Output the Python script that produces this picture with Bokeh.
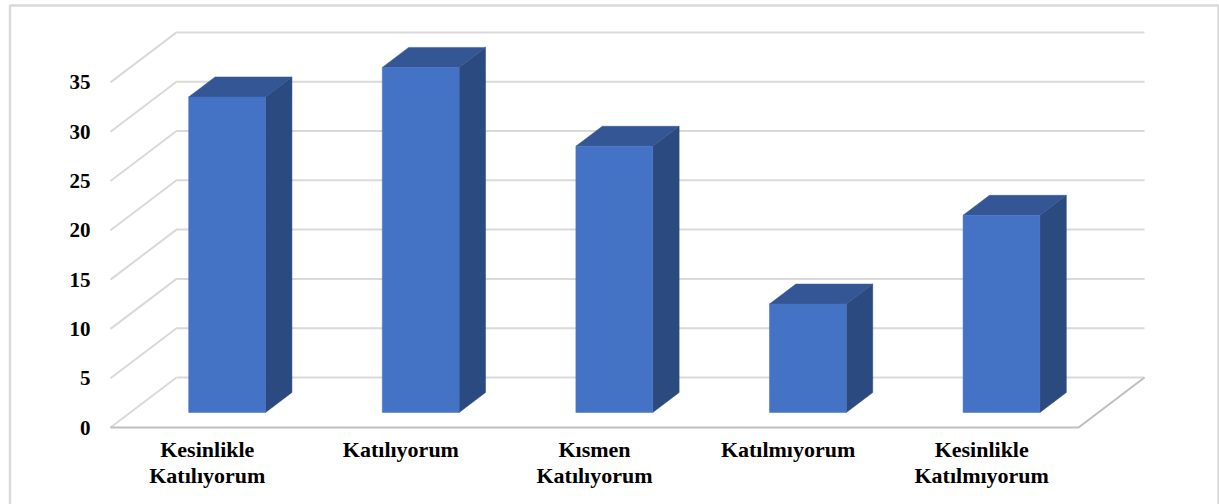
from bokeh.plotting import figure
from bokeh.models import Range1d, LinearAxis, FixedTicker, BoxAnnotation
from bokeh.embed import file_html
from bokeh.resources import INLINE

categories = ["Kesinlikle\nKatılıyorum", "Katılıyorum", "Kısmen\nKatılıyorum", "Katılmıyorum", "Kesinlikle\nKatılmıyorum"]
values = [32, 35, 27, 11, 20]
y_ticks = [0, 5, 10, 15, 20, 25, 30, 35]

FRONT, SIDE, TOP = "#4472C4", "#2A4A80", "#345694"
GRID, FLOOR = "#D9D9D9", "#BFBFBF"
FONT = "Liberation Serif"

# oblique projection of the 3-D box, in data units
PX_X = 193.6
PX_Y = 9.86
DEPTH_X = 66 / PX_X
DEPTH_Y = 50 / PX_Y
BAR_W = 0.397
D0, D1 = 0.3, 0.7
n = len(categories)

p = figure(width=1219, height=504, output_backend="svg", toolbar_location=None,
           x_range=Range1d(-110 / PX_X, 1109 / PX_X),
           y_range=Range1d(-77 / PX_Y, 427 / PX_Y),
           x_axis_type=None, y_axis_type=None,
           min_border=0,
           background_fill_color="white", border_fill_color="white", outline_line_color=None)
p.xgrid.visible = False
p.ygrid.visible = False

# walls
wall_x, wall_y = [], []
for t in y_ticks:
    wall_x.append([0, DEPTH_X] + ([n + DEPTH_X] if t else []))
    wall_y.append([t, t + DEPTH_Y] + ([t + DEPTH_Y] if t else []))
p.multi_line(wall_x, wall_y, line_color=GRID, line_width=2)
p.line([DEPTH_X, n + DEPTH_X], [DEPTH_Y, DEPTH_Y], line_color=GRID, line_width=2)
p.line([0, n, n + DEPTH_X], [0, 0, DEPTH_Y], line_color=FLOOR, line_width=2, line_join="miter")

# bars
left = [i + (1 - BAR_W) / 2 + D0 * DEPTH_X for i in range(n)]
right = [l + BAR_W for l in left]
base = D0 * DEPTH_Y
top = [v + base for v in values]
dx = (D1 - D0) * DEPTH_X
dy = (D1 - D0) * DEPTH_Y
p.patches([[r, r + dx, r + dx, r] for r in right],
          [[base, base + dy, t + dy, t] for t in top], fill_color=SIDE, line_color=SIDE, line_width=0.5)
p.patches([[l, l + dx, r + dx, r] for l, r in zip(left, right)],
          [[t, t + dy, t + dy, t] for t in top], fill_color=TOP, line_color=TOP, line_width=0.5)
p.quad(left=left, right=right, bottom=[base] * n, top=top, fill_color=FRONT, line_color=FRONT, line_width=0.5)

# axes
yax = LinearAxis(ticker=FixedTicker(ticks=y_ticks), fixed_location=0)
yax.axis_line_color = None
yax.major_tick_line_color = None
yax.minor_tick_line_color = None
yax.major_label_standoff = 14
yax.major_label_text_font = FONT
yax.major_label_text_font_style = "bold"
yax.major_label_text_font_size = "21px"
yax.major_label_text_color = "black"
p.add_layout(yax, "left")

xticks = [i + 0.5 for i in range(n)]
xax = LinearAxis(ticker=FixedTicker(ticks=xticks), fixed_location=0)
xax.major_label_overrides = {x: c for x, c in zip(xticks, categories)}
xax.axis_line_color = None
xax.major_tick_line_color = None
xax.minor_tick_line_color = None
xax.major_label_standoff = 3
xax.major_label_text_font = FONT
xax.major_label_text_font_style = "bold"
xax.major_label_text_font_size = "22px"
xax.major_label_text_line_height = 1.05
xax.major_label_text_color = "black"
p.add_layout(xax, "below")

# outer chart border (open at the foot, where the picture is cropped)
p.add_layout(BoxAnnotation(left=9.5, right=1218, top=422 / PX_Y, bottom=-100,
                           left_units="screen", right_units="screen", top_units="data", bottom_units="data",
                           fill_color=None, line_color=GRID, line_alpha=1, line_width=2.5, level="overlay"))

open("out.html", "w").write(file_html(p, INLINE))
